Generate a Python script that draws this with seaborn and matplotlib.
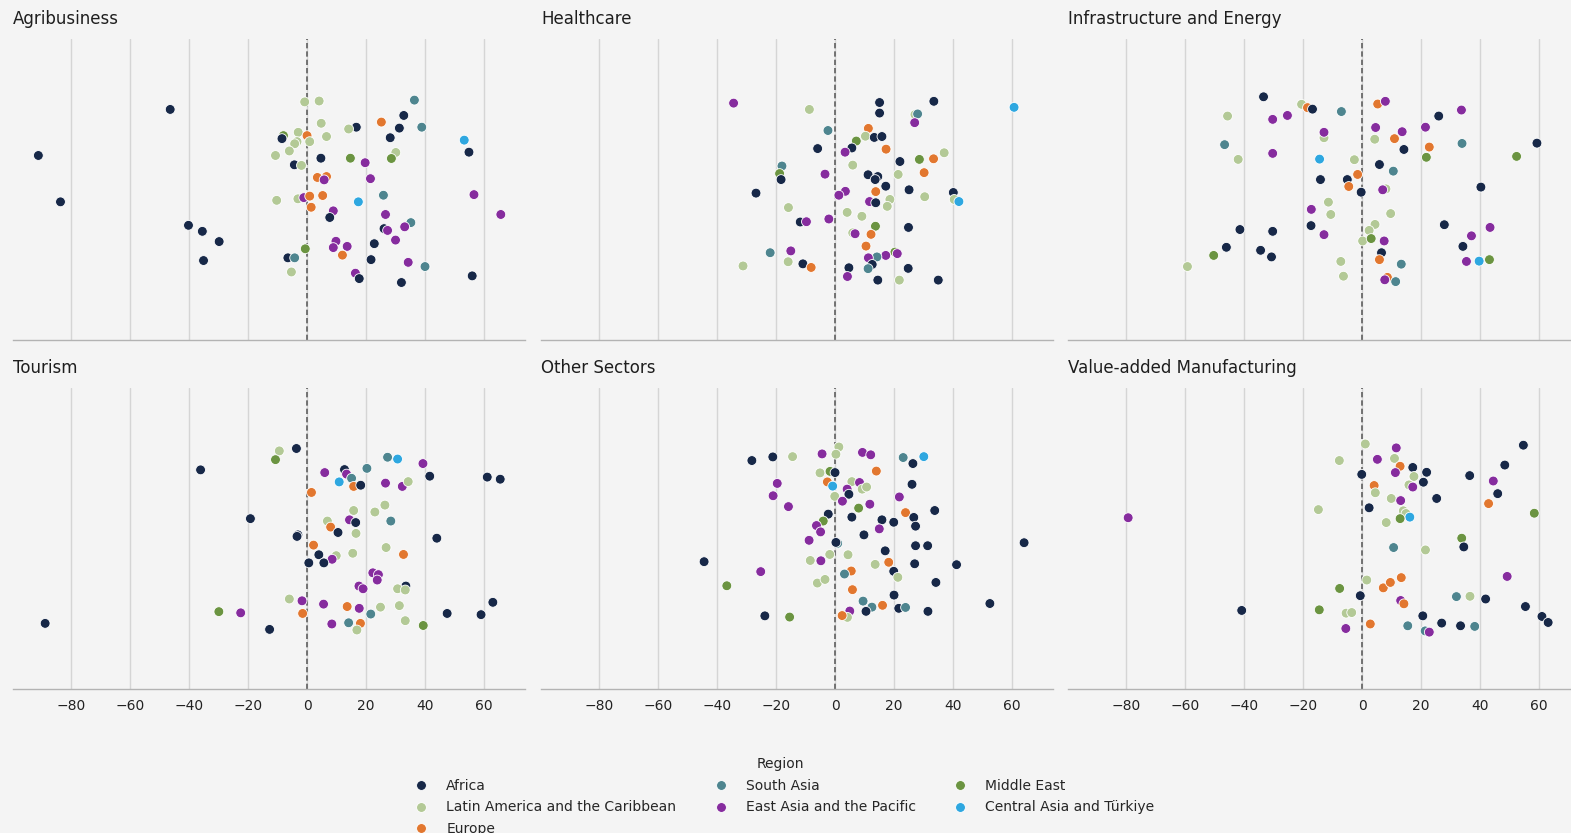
import matplotlib
matplotlib.use("Agg")
import matplotlib.pyplot as plt
import seaborn as sns
import pandas as pd

# Region codes used in the per-sector lists below
REGIONS = {
    "A": "Africa",
    "L": "Latin America and the Caribbean",
    "E": "Europe",
    "S": "South Asia",
    "P": "East Asia and the Pacific",
    "M": "Middle East",
    "C": "Central Asia and Türkiye",
}
REGION_COLORS = ["#172848", "#b3c996", "#e2772f", "#4e858f", "#862c9e", "#6b9441", "#2ea7e0"]

SECTORS = ["Agribusiness", "Healthcare", "Infrastructure and Energy",
           "Tourism", "Other Sectors", "Value-added Manufacturing"]
X_TICKS = [-80, -60, -40, -20, 0, 20, 40, 60]

# --- Agribusiness ---
agri_x = [-46.4, -91.1, -83.6, -40.2, -35.5, -29.8, -35.1, -0.8, 4.1, 36.4,
          32.8, 25.2, 4.8, 16.7, 14.1, 31.3, 38.9, -3.0, 0.0, -8.0,
          -8.5, 6.6, -3.4, 0.9, -4.2, 28.2, 53.3, -6.0, -10.7, 4.7,
          14.7, 30.1, 28.6, 54.9, -4.3, -1.9, 19.7, 3.5, 6.6, 5.8,
          21.5, -10.3, -3.1, -1.1, 0.9, 5.3, 25.9, 56.6, 17.4, 1.4,
          8.9, 7.7, 26.6, 65.7, 35.2, 33.1, 26.1, 27.3, 30.0, 22.8,
          9.8, 13.6, 8.9, -0.6, 12.0, -6.5, -4.2, 21.7, 34.3, 40.0,
          -5.3, 16.4, 17.7, 32.0, 56.0]
agri_y = [76.6, 61.3, 45.9, 38.1, 36.1, 32.7, 26.4, 79.1, 79.4, 79.7,
          74.6, 72.4, 72.0, 70.7, 70.1, 70.4, 70.7, 69.0, 67.9, 67.9,
          66.9, 67.6, 65.9, 65.9, 65.2, 67.2, 66.4, 62.8, 61.3, 60.4,
          60.4, 62.3, 60.3, 62.4, 58.2, 58.0, 58.9, 54.0, 54.3, 53.2,
          53.6, 46.4, 46.9, 47.3, 47.8, 48.0, 48.1, 48.3, 45.9, 44.1,
          42.9, 40.7, 41.7, 41.7, 39.0, 37.6, 37.0, 36.4, 33.2, 32.0,
          32.8, 31.1, 30.7, 30.3, 28.2, 27.3, 27.3, 26.7, 25.8, 24.4,
          22.6, 22.2, 20.4, 19.1, 21.3]
agri_region = list("AAAAAAALLS" "AELALASLEM" "ALLLLACLLA" "MLMAALPEEP"
                   "PLLPEESPCE" "PAPPSPAPPA" "PPPMEASAPS" "LPAAA")

# --- Healthcare ---
health_x = [-34.4, -8.7, 15.1, 33.5, 60.7, 15.1, 27.1, 28.0, 27.0, -2.4,
            11.3, 10.3, 13.3, 15.9, 7.2, -5.9, 5.7, 3.4, 17.3, 37.0,
            22.0, 28.6, 33.4, -18.0, -18.8, -18.3, 6.0, -3.4, 11.2, 14.5,
            13.6, 21.4, 30.2, -26.8, 17.2, 3.5, 1.3, 13.8, 25.1, 11.7,
            18.6, 13.8, 17.7, 30.4, 40.1, 40.4, 42.0, -15.8, 4.1, 9.1,
            -11.8, -9.7, -2.1, 24.9, 13.7, 6.0, 6.8, 12.2, 10.5, -22.0,
            -15.0, 20.3, 21.1, 17.2, 14.2, 11.3, 12.6, 11.2, -31.2, -15.9,
            -10.9, -8.1, 4.7, 24.8, 4.2, 14.5, 21.8, 35.0]
health_y = [78.7, 76.6, 78.9, 79.3, 77.3, 75.4, 74.9, 75.1, 72.2, 69.6,
            70.3, 67.7, 67.3, 67.6, 66.1, 63.6, 63.8, 62.4, 63.4, 62.2,
            59.3, 60.0, 60.2, 57.8, 55.3, 53.3, 58.1, 55.1, 54.9, 54.3,
            53.3, 55.0, 55.6, 48.8, 51.1, 49.4, 48.1, 49.3, 49.9, 46.0,
            46.7, 45.6, 44.4, 47.6, 49.0, 46.7, 46.0, 44.0, 42.4, 41.1,
            39.2, 39.3, 40.2, 37.4, 37.8, 35.6, 35.3, 35.1, 31.2, 29.0,
            29.6, 29.2, 28.7, 28.1, 27.6, 27.3, 25.1, 23.7, 24.6, 26.0,
            25.3, 24.1, 24.0, 23.8, 21.1, 19.9, 19.9, 19.9]
health_region = list("PLAACALSPS" "ELAAMAAPEL" "AMESMALPAA" "ALEAAPPEAP"
                     "LALLALCLLL" "APPAMLPEES" "PMPPSPASLL" "AEAAPALA")

# --- Infrastructure and Energy ---
infra_x = [-33.4, -20.5, -18.5, -16.8, -45.6, -30.3, -25.3, -7.0, 5.3, 7.9,
           26.0, 33.7, -12.9, -12.9, 4.6, 13.6, 21.5, 4.3, 11.0, 14.2,
           22.8, 33.9, 59.3, -46.6, -42.0, -30.3, -14.4, -2.6, 21.8, 52.4,
           5.9, 10.6, -14.1, -5.0, -1.5, -4.5, -0.3, 8.1, 7.0, 40.3,
           -11.4, -17.2, -10.6, 9.7, -41.4, -30.3, -17.3, -12.9, 4.4, 2.4,
           0.2, 3.1, 7.5, 27.9, 43.4, 37.1, 34.2, -46.0, -50.3, -34.4,
           -30.7, -59.2, -7.2, -6.3, 6.6, 5.9, 8.6, 7.7, 11.4, 13.3,
           35.4, 39.7, 43.2]
infra_y = [80.8, 78.3, 77.2, 76.7, 74.4, 73.3, 74.6, 75.9, 78.4, 79.3,
           74.4, 76.4, 67.2, 69.0, 70.6, 69.2, 70.7, 66.7, 66.9, 63.3,
           64.1, 65.3, 65.4, 64.9, 60.0, 62.0, 60.1, 59.9, 60.7, 61.0,
           58.3, 56.1, 53.3, 53.3, 55.0, 51.0, 49.1, 50.2, 49.9, 50.8,
           45.8, 43.4, 41.7, 42.0, 36.7, 36.1, 38.0, 35.0, 38.4, 36.4,
           32.9, 33.7, 32.9, 38.3, 37.4, 34.6, 31.1, 30.8, 28.1, 29.8,
           27.6, 24.4, 26.1, 21.2, 29.0, 26.7, 20.8, 20.0, 19.4, 25.2,
           26.1, 26.2, 26.7]
infra_region = list("ALEALPPSEP" "APLPPPPLEA" "ESASLPCLMM" "ASAAEEALPA"
                    "LPLLAAAPLL" "LMPAPPAAMA" "ALLLAEEPSS" "PCM")

# --- Tourism ---
tour_x = [-3.6, -9.4, -10.7, -36.1, 27.3, 30.7, 39.3, 6.0, 12.7, 13.4,
          15.1, 20.3, 10.9, 15.8, 18.2, 26.6, 32.3, 34.3, 41.6, 61.1,
          65.5, 1.5, -19.2, 15.8, 23.0, 26.4, 6.9, 14.4, 16.5, 8.0,
          28.4, -3.1, -3.4, 10.5, 16.6, 44.0, 2.2, 4.0, 9.9, 8.5,
          5.7, 0.6, 15.5, 26.8, 32.7, 22.3, 24.2, 23.8, 17.6, 19.0,
          33.5, 30.7, 33.3, -6.0, -1.7, 5.6, 13.6, 17.7, 24.9, 31.3,
          63.0, -29.9, -22.5, -1.5, 21.6, 47.5, 59.0, -88.8, -12.7, 8.4,
          14.1, 18.1, 16.9, 33.3, 39.4]
tour_y = [79.9, 79.1, 76.2, 72.8, 77.0, 76.4, 74.9, 71.9, 72.9, 71.4,
          70.0, 73.3, 68.8, 67.3, 67.7, 68.4, 67.3, 68.9, 70.7, 70.4,
          69.7, 65.3, 56.6, 59.3, 58.8, 61.1, 55.8, 56.2, 55.3, 53.8,
          55.8, 51.2, 50.7, 52.0, 51.7, 50.1, 47.8, 44.6, 44.3, 43.1,
          41.9, 41.9, 45.1, 47.0, 44.7, 38.6, 38.0, 36.2, 34.2, 33.3,
          34.2, 33.3, 32.9, 29.9, 29.3, 28.2, 27.4, 26.8, 27.2, 27.7,
          28.8, 25.7, 25.3, 25.1, 24.9, 25.1, 24.7, 21.8, 19.8, 21.6,
          22.0, 21.8, 19.6, 22.7, 21.1]
tour_region = list("ALMASCPPAP" "SSCEAPPLAA" "AEALLLLPAE" "SAAALAEALP"
                   "AALLEPPPPP" "ALLLPPEPLL" "AMPESAAAAP" "SELLM")

# --- Other Sectors ---
other_x = [-28.2, -21.1, -14.4, -4.4, 1.3, 0.3, 9.3, 12.1, 23.1, 30.1,
           26.4, -5.1, -1.7, 0.0, 14.0, -19.6, -21.0, -15.8, -2.6, -0.8,
           -0.1, 5.7, 8.3, 4.1, 4.7, 9.2, 10.7, 2.5, 11.8, 21.8,
           26.1, 8.0, -2.3, 5.7, -4.0, -6.3, -4.9, -4.9, 15.9, 19.9,
           23.9, 26.7, 27.3, 33.8, 15.0, 9.8, -8.8, 0.9, 0.3, 17.0,
           27.3, 31.4, 64.1, -1.8, 4.4, -8.4, -4.8, -44.4, 13.6, 18.2,
           27.0, 41.2, -25.2, 5.5, 3.2, 19.9, 21.3, -6.0, -3.4, 34.2,
           -36.7, 5.9, 20.0, 52.5, 9.5, 12.5, 16.1, 21.6, 23.9, 31.5,
           10.5, 5.0, 4.2, 2.4, -23.8, -15.4]
other_y = [75.9, 77.1, 77.2, 78.1, 80.4, 78.0, 78.6, 77.8, 76.9, 77.2,
           74.9, 71.8, 72.3, 71.9, 72.4, 68.3, 64.2, 60.6, 68.8, 67.4,
           64.0, 68.9, 68.6, 66.4, 64.7, 66.4, 67.1, 62.4, 61.4, 63.8,
           68.0, 60.1, 58.1, 57.1, 55.8, 54.3, 52.0, 52.2, 56.2, 55.4,
           58.6, 57.0, 54.1, 59.3, 53.2, 51.2, 49.4, 48.4, 48.7, 45.9,
           47.6, 47.6, 48.6, 44.7, 44.6, 42.7, 42.6, 42.3, 41.4, 42.1,
           41.6, 41.3, 39.0, 39.2, 38.2, 39.1, 37.1, 35.2, 36.4, 35.4,
           34.3, 33.0, 31.2, 28.4, 29.2, 27.2, 27.8, 26.8, 27.1, 25.8,
           25.8, 25.9, 23.8, 24.4, 24.3, 23.9]
other_region = list("AALPLLPPSC" "ALMAEPPPEC" "LLPPALLPPP" "AMAAMPLPAA"
                    "EAAAPAPSAA" "AAALLLPALE" "AAPESALLLA" "MEAASSEASA"
                    "APLEAM")

# --- Value-added Manufacturing ---
manuf_x = [1.1, 11.6, 54.7, -7.7, 5.2, 11.0, 12.9, 17.2, 48.4, -0.1,
           11.3, 17.6, 21.9, 20.8, 36.5, 44.5, 4.1, 4.5, 15.9, 17.2,
           46.0, 9.9, 13.1, 25.3, 42.9, -14.8, 2.4, 14.0, 14.9, 16.2,
           12.9, 8.2, 58.4, -79.3, 33.8, 34.5, 10.7, 21.5, 1.6, 49.2,
           -7.6, 7.2, 9.6, 13.3, -0.6, 13.1, 14.2, 32.0, 36.6, 41.9,
           55.4, -40.8, -14.5, -5.4, -3.5, 2.8, -5.5, 20.6, 27.0, 33.4,
           15.5, 21.4, 22.8, 38.2, 61.0, 63.1]
manuf_y = [81.4, 80.1, 81.0, 75.9, 76.3, 76.6, 74.0, 73.6, 74.4, 71.3,
           71.9, 70.6, 72.0, 68.7, 70.9, 69.1, 67.6, 65.2, 67.8, 67.1,
           64.9, 63.3, 62.6, 63.3, 61.6, 59.6, 60.2, 59.2, 58.3, 57.1,
           56.6, 55.3, 58.4, 56.9, 50.1, 47.2, 47.0, 46.2, 36.2, 37.4,
           33.4, 33.6, 35.4, 37.0, 31.0, 29.4, 28.3, 30.7, 30.8, 29.9,
           27.4, 26.1, 26.3, 25.2, 25.4, 21.6, 20.1, 24.3, 21.9, 21.0,
           21.0, 19.3, 18.9, 20.8, 24.1, 22.1]
manuf_region = list("LPALPLEAAA" "PLAAAPELLP" "ALPAELALLC" "MLMPMASLLP"
                    "MEEEAPESLA" "AAMLLEPAAA" "SSPSAA")

panels = [
    (agri_x, agri_y, agri_region),
    (health_x, health_y, health_region),
    (infra_x, infra_y, infra_region),
    (tour_x, tour_y, tour_region),
    (other_x, other_y, other_region),
    (manuf_x, manuf_y, manuf_region),
]

BG = "#f4f4f4"
W, H = 1571, 833

sns.set_theme(style="white")
plt.rcParams["font.family"] = ["DejaVu Sans", "sans-serif"]

hue_order = list(REGIONS.values())
palette = dict(zip(hue_order, REGION_COLORS))

fig = plt.figure(figsize=(W / 100, H / 100), dpi=100, facecolor=BG)

col_left_px = [13, 541, 1068]
row_bottom_px = [340, 689]
axes = []
for i, (name, (xs, ys, codes)) in enumerate(zip(SECTORS, panels)):
    row, col = divmod(i, 3)
    ax = fig.add_axes([col_left_px[col] / W, 1 - row_bottom_px[row] / H,
                       512 / W, 301 / H])
    axes.append(ax)
    ax.set_facecolor(BG)

    df = pd.DataFrame({"value": xs, "jitter": ys,
                       "Region": [REGIONS[c] for c in codes]})
    sns.scatterplot(data=df, x="value", y="jitter", hue="Region",
                    hue_order=hue_order, palette=palette, s=50,
                    edgecolor="white", linewidth=0.6, ax=ax,
                    legend=(i == 0), zorder=3)

    ax.axvline(0, color="#5f5f5f", lw=1.2, ls=(0, (3.2, 1.8)), zorder=2)
    ax.set_xlim(-99.7, 73.9)
    ax.set_ylim(0, 100)
    ax.set_xticks(X_TICKS)
    ax.set_yticks([])
    ax.set_xlabel("")
    ax.set_ylabel("")
    ax.grid(axis="x", color="#d5d5d5", lw=1.0)
    ax.set_axisbelow(True)
    for side in ("left", "top", "right"):
        ax.spines[side].set_visible(False)
    ax.spines["bottom"].set_color("#b3b3b3")
    ax.spines["bottom"].set_linewidth(1.0)
    ax.tick_params(axis="x", direction="out", length=4, width=1,
                   color="#3a3a3a", labelsize=10, labelcolor="#222222",
                   pad=3.5, labelbottom=(row == 1))
    ax.set_title(name, loc="left", fontsize=12, pad=11, color="#1e1e1e")

handles, labels = axes[0].get_legend_handles_labels()
axes[0].get_legend().remove()
fig.legend(handles, labels, title="Region", loc="upper center",
           bbox_to_anchor=(0.497, 0.106), ncol=3, frameon=False,
           fontsize=10, title_fontsize=10, labelspacing=0.55,
           columnspacing=2.2)

fig.savefig("out.png", dpi=100, facecolor=BG)
